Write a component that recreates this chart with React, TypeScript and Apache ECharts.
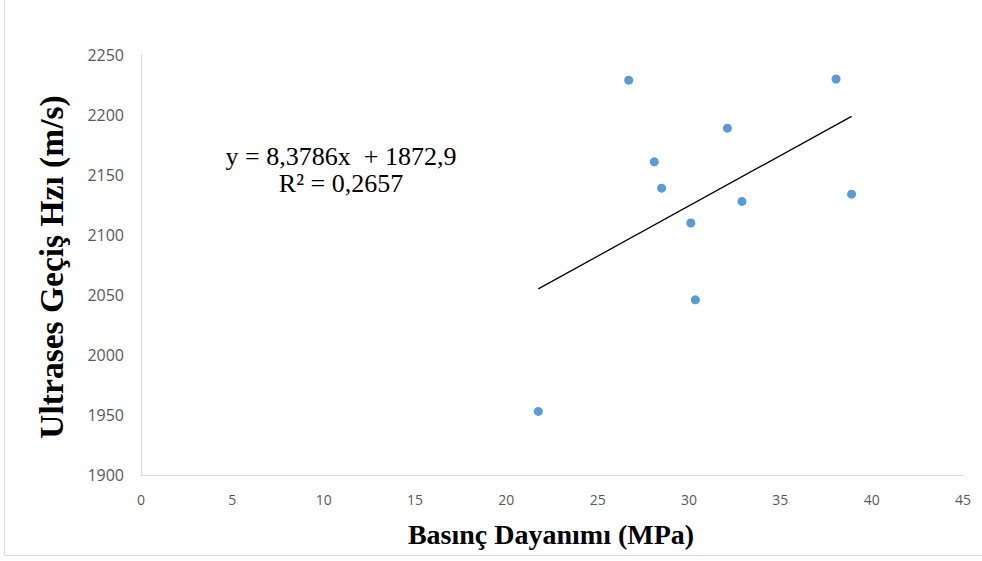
import React, { useEffect, useRef } from "react";
import * as echarts from "echarts";

const strength = [26.7, 38.05, 32.1, 28.1, 28.5, 32.9, 38.9, 30.1, 30.35, 21.75];
const velocity = [2229, 2230, 2189, 2161, 2139, 2128, 2134, 2110, 2046, 1953];
const slope = 8.3786;
const intercept = 1872.9;
const equationLines = ["y = 8,3786x  + 1872,9", "R² = 0,2657"];
const xTitle = "Basınç Dayanımı (MPa)";
const yTitle = "Ultrases Geçiş Hzı (m/s)";

export default function App() {
  const ref = useRef<HTMLDivElement>(null);
  useEffect(() => {
    const chart = echarts.init(ref.current!, null, { renderer: "svg" });
    const xmin = Math.min(...strength);
    const xmax = Math.max(...strength);
    const trend = [
      [xmin, slope * xmin + intercept],
      [xmax, slope * xmax + intercept],
    ];
    const serif = "'Liberation Serif', 'Times New Roman', serif";
    chart.setOption({
      animation: false,
      backgroundColor: "#ffffff",
      grid: { left: 141, right: 19, top: 55, bottom: 86 },
      xAxis: {
        type: "value",
        min: 0,
        max: 45,
        interval: 5,
        axisLine: { show: true, lineStyle: { color: "#d9d9d9", width: 1 } },
        axisTick: { show: false },
        splitLine: { show: false },
        axisLabel: {
          color: "#595959",
          fontSize: 14,
          fontFamily: "Open Sans",
          margin: 17,
          formatter: (v: number) => String(v),
        },
      },
      yAxis: {
        type: "value",
        min: 1900,
        max: 2250,
        interval: 50,
        axisLine: { show: true, lineStyle: { color: "#d9d9d9", width: 1 } },
        axisTick: { show: false },
        splitLine: { show: false },
        axisLabel: {
          color: "#595959",
          fontSize: 16,
          fontFamily: "Open Sans",
          margin: 17,
          formatter: (v: number) => String(v),
        },
      },
      series: [
        {
          type: "line",
          data: trend,
          symbol: "none",
          lineStyle: { color: "#000000", width: 1.3 },
          silent: true,
          z: 1,
        },
        {
          type: "scatter",
          data: strength.map((x, i) => [x, velocity[i]]),
          symbolSize: 9,
          itemStyle: { color: "#5b9bd5", opacity: 1 },
          z: 2,
        },
      ],
      graphic: [
        {
          type: "rect",
          shape: { x: 4.5, y: -2, width: 990, height: 557.5 },
          style: { fill: "none", stroke: "#d9d9d9", lineWidth: 1 },
          silent: true,
        },
        {
          type: "text",
          x: 341,
          y: 156,
          style: {
            text: equationLines[0],
            font: `26px ${serif}`,
            fill: "#000000",
            textAlign: "center",
            textVerticalAlign: "middle",
          },
        },
        {
          type: "text",
          x: 341,
          y: 183,
          style: {
            text: equationLines[1],
            font: `26px ${serif}`,
            fill: "#000000",
            textAlign: "center",
            textVerticalAlign: "middle",
          },
        },
        {
          type: "text",
          x: 551,
          y: 534,
          style: {
            text: xTitle,
            font: `bold 28px ${serif}`,
            fill: "#000000",
            textAlign: "center",
            textVerticalAlign: "middle",
          },
        },
        {
          type: "text",
          x: 51.5,
          y: 267,
          rotation: Math.PI / 2,
          style: {
            text: yTitle,
            font: `bold 33.5px ${serif}`,
            fill: "#000000",
            textAlign: "center",
            textVerticalAlign: "middle",
          },
        },
      ],
    });
    return () => chart.dispose();
  }, []);
  return (
    <div
      ref={ref}
      style={{ position: "fixed", left: 0, top: 0, width: 982, height: 561 }}
    />
  );
}
